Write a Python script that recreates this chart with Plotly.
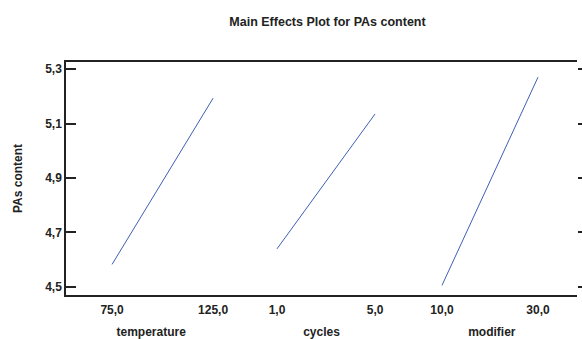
import plotly.graph_objects as go

# Factor levels and mean response at each level
temperature_levels = [75.0, 125.0]
temperature_means = [4.583, 5.193]
cycles_levels = [1.0, 5.0]
cycles_means = [4.640, 5.135]
modifier_levels = [10.0, 30.0]
modifier_means = [4.506, 5.270]

factor_names = ["temperature", "cycles", "modifier"]
y_ticks = [4.5, 4.7, 4.9, 5.1, 5.3]


def fmt(v):
    return f"{v:.1f}".replace(".", ",")


FONT = "Liberation Sans, Arial, sans-serif"
LINE_COLOR = "#3f5fb5"
AXIS_COLOR = "#222222"
TEXT_COLOR = "#222222"

fig = go.Figure()
series = [
    (temperature_levels, temperature_means, "x", "y"),
    (cycles_levels, cycles_means, "x2", "y"),
    (modifier_levels, modifier_means, "x3", "y"),
]
for xs, ys, xa, ya in series:
    fig.add_trace(go.Scatter(
        x=xs, y=ys, xaxis=xa, yaxis=ya, mode="lines",
        line=dict(color=LINE_COLOR, width=1), showlegend=False,
        hoverinfo="skip",
    ))

domains = [[0, 1 / 3], [1 / 3, 2 / 3], [2 / 3, 1]]
ranges = [[52.2, 136.5], [-0.66, 6.29], [2.64, 38.125]]
level_sets = [temperature_levels, cycles_levels, modifier_levels]

for i, (dom, rng, levels, name) in enumerate(zip(domains, ranges, level_sets, factor_names)):
    key = "xaxis" if i == 0 else f"xaxis{i + 1}"
    fig.layout[key] = dict(
        domain=dom, range=rng, anchor="y",
        tickmode="array", tickvals=levels,
        ticktext=[f"<b>{fmt(v)}</b>" for v in levels],
        ticks="", showgrid=False, zeroline=False,
        showline=True, linecolor=AXIS_COLOR, linewidth=1.5, mirror=True,
        ticklabelstandoff=3, automargin=False,
        tickfont=dict(family=FONT, size=12, color=TEXT_COLOR),
        title=dict(text=f"<b>{name}</b>", standoff=14,
                   font=dict(family=FONT, size=12, color=TEXT_COLOR)),
        fixedrange=True,
    )

fig.update_layout(
    yaxis=dict(
        range=[4.4706, 5.3257], anchor="x",
        tickmode="array", tickvals=y_ticks, ticktext=[f"<b>{fmt(v)}</b>" for v in y_ticks],
        ticks="inside", ticklen=10, tickcolor=AXIS_COLOR, tickwidth=1.5,
        showgrid=False, zeroline=False, automargin=False,
        showline=True, linecolor=AXIS_COLOR, linewidth=1.5,
        tickfont=dict(family=FONT, size=12, color=TEXT_COLOR),
        title=dict(text="<b>PAs content</b>", standoff=20,
                   font=dict(family=FONT, size=12, color=TEXT_COLOR)),
        fixedrange=True,
    ),
    yaxis2=dict(
        range=[4.4706, 5.3257], overlaying="y", side="right", anchor="x3",
        tickmode="array", tickvals=y_ticks, showticklabels=False,
        ticks="outside", ticklen=5, tickcolor=AXIS_COLOR, tickwidth=1.5,
        showgrid=False, zeroline=False, showline=False, automargin=False,
        fixedrange=True,
    ),
    title=dict(text="<b>Main Effects Plot for PAs content</b>", x=327.5 / 582,
               xanchor="center", y=1 - 22 / 339, yanchor="middle",
               font=dict(family=FONT, size=12.5, color=TEXT_COLOR)),
    width=582, height=339,
    margin=dict(l=66, r=5, t=62, b=44),
    paper_bgcolor="white", plot_bgcolor="white",
)

# invisible anchor trace so the right-hand tick axis is drawn
fig.add_trace(go.Scatter(x=[modifier_levels[0]], y=[modifier_means[0]], xaxis="x3", yaxis="y2",
                         mode="markers", marker=dict(opacity=0), showlegend=False, hoverinfo="skip"))

fig.write_html("out.html", config={"displayModeBar": False})
